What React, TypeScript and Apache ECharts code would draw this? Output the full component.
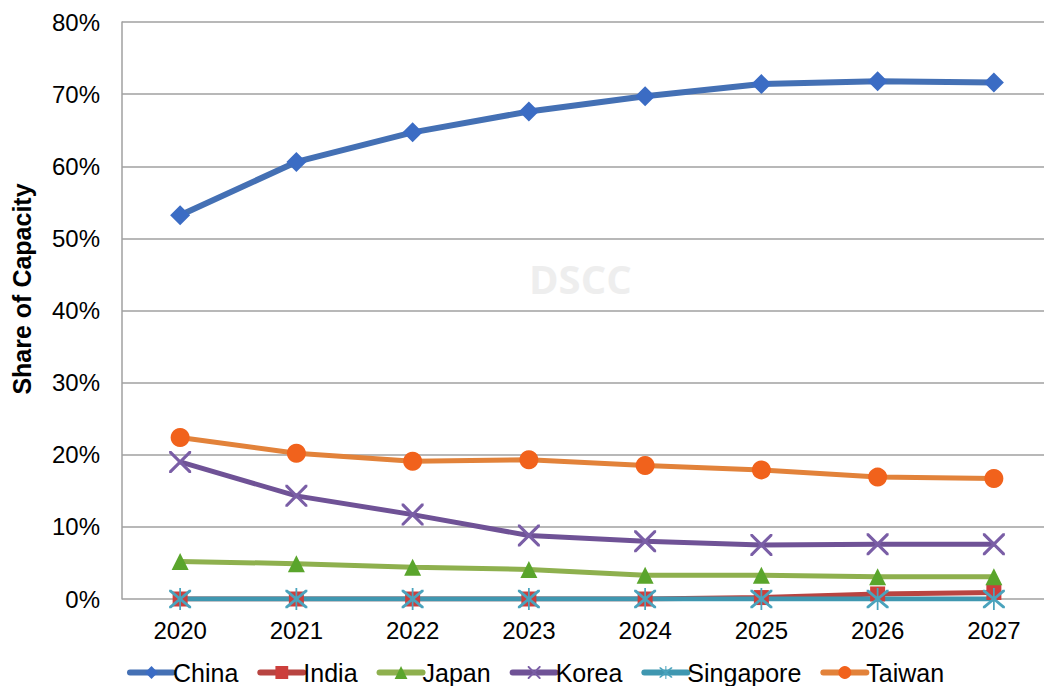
import React, { useEffect, useRef } from "react";
import * as echarts from "echarts";

const years = ["2020", "2021", "2022", "2023", "2024", "2025", "2026", "2027"];
const china = [53.2, 60.6, 64.7, 67.6, 69.7, 71.4, 71.8, 71.6];
const india = [0, 0, 0, 0, 0, 0.2, 0.7, 0.9];
const japan = [5.2, 4.9, 4.4, 4.1, 3.3, 3.3, 3.1, 3.1];
const korea = [19.0, 14.3, 11.7, 8.8, 8.0, 7.5, 7.6, 7.6];
const singapore = [0, 0, 0, 0, 0, 0, 0, 0];
const taiwan = [22.4, 20.2, 19.1, 19.3, 18.5, 17.9, 16.9, 16.7];

const crossPath =
  "path://M0,0 L1,0 L5,4 L9,0 L10,0 L10,1 L6,5 L10,9 L10,10 L9,10 L5,6 L1,10 L0,10 L0,9 L4,5 L0,1 Z";
const starPath =
  "path://M0,0 L1,0 L5,4 L9,0 L10,0 L10,1 L6,5 L10,9 L10,10 L9,10 L5,6 L1,10 L0,10 L0,9 L4,5 L0,1 Z M4.6,-1 L5.4,-1 L5.4,11 L4.6,11 Z";

const FONT = "Liberation Sans, Arial, sans-serif";

export default function App() {
  const ref = useRef<HTMLDivElement>(null);
  useEffect(() => {
    if (!ref.current) return;
    const chart = echarts.init(ref.current, undefined, { renderer: "svg" });
    const mk = (name: string, data: number[], color: string, markerColor: string, symbol: string, size: number, width = 5) => ({
      name,
      type: "line",
      data,
      symbol,
      symbolSize: size,
      lineStyle: { color, width },
      itemStyle: { color: markerColor, borderWidth: 0 },
      color: color,
    });
    chart.setOption({
      animation: false,
      textStyle: { fontFamily: FONT },
      grid: { left: 122, right: 8, top: 22, bottom: 87, containLabel: false, outerBoundsMode: "none" },
      xAxis: {
        type: "category",
        data: years,
        boundaryGap: true,
        axisLine: { show: false },
        axisTick: { show: false },
        axisLabel: { fontSize: 24, color: "#000", margin: 19, fontFamily: FONT },
      },
      yAxis: {
        type: "value",
        min: 0,
        max: 80,
        interval: 10,
        axisLine: { show: true, lineStyle: { color: "#a0a0a0", width: 1.5 } },
        axisTick: { show: false },
        axisLabel: { formatter: "{value}%", fontSize: 24, color: "#000", margin: 22, fontFamily: FONT },
        splitLine: { lineStyle: { color: "#a0a0a0", width: 1.5 } },
      },
      legend: {
        left: 127,
        top: 660,
        padding: 0,
        itemWidth: 43,
        itemHeight: 16,
        itemGap: 19,
        lineStyle: { width: 6, cap: "round" },
        textStyle: { fontSize: 25, color: "#000", fontFamily: FONT, padding: [0, 0, 0, -5] },
        data: ["China", "India", "Japan", "Korea", "Singapore", "Taiwan"],
      },
      graphic: [
        {
          type: "text",
          left: 529,
          top: 258,
          style: { text: "DSCC", fontSize: 40, fontWeight: "bold", fill: "#eeeeee", fontFamily: "Open Sans, sans-serif" },
          z: 0,
        },
        {
          type: "text",
          x: 22,
          y: 289,
          rotation: Math.PI / 2,
          style: {
            text: "Share of Capacity",
            fontSize: 25,
            fontWeight: "bold",
            fill: "#000",
            fontFamily: FONT,
            align: "center",
            verticalAlign: "middle",
          },
        },
      ],
      series: [
        mk("China", china, "#4470b4", "#3b6cc4", "diamond", 20, 6),
        mk("India", india, "#b84441", "#cc3f3c", "rect", 15),
        mk("Japan", japan, "#8eb04e", "#5aa52c", "triangle", 17),
        mk("Korea", korea, "#6f5296", "#7a5ea6", crossPath, 22),
        mk("Singapore", singapore, "#3f97b0", "#4aa3bd", starPath, 22),
        mk("Taiwan", taiwan, "#e2823a", "#f1621c", "circle", 19),
      ],
    });
    return () => chart.dispose();
  }, []);
  return (
    <div
      ref={ref}
      style={{ position: "fixed", left: 0, top: 0, width: 1060, height: 686, background: "#fff" }}
    />
  );
}
